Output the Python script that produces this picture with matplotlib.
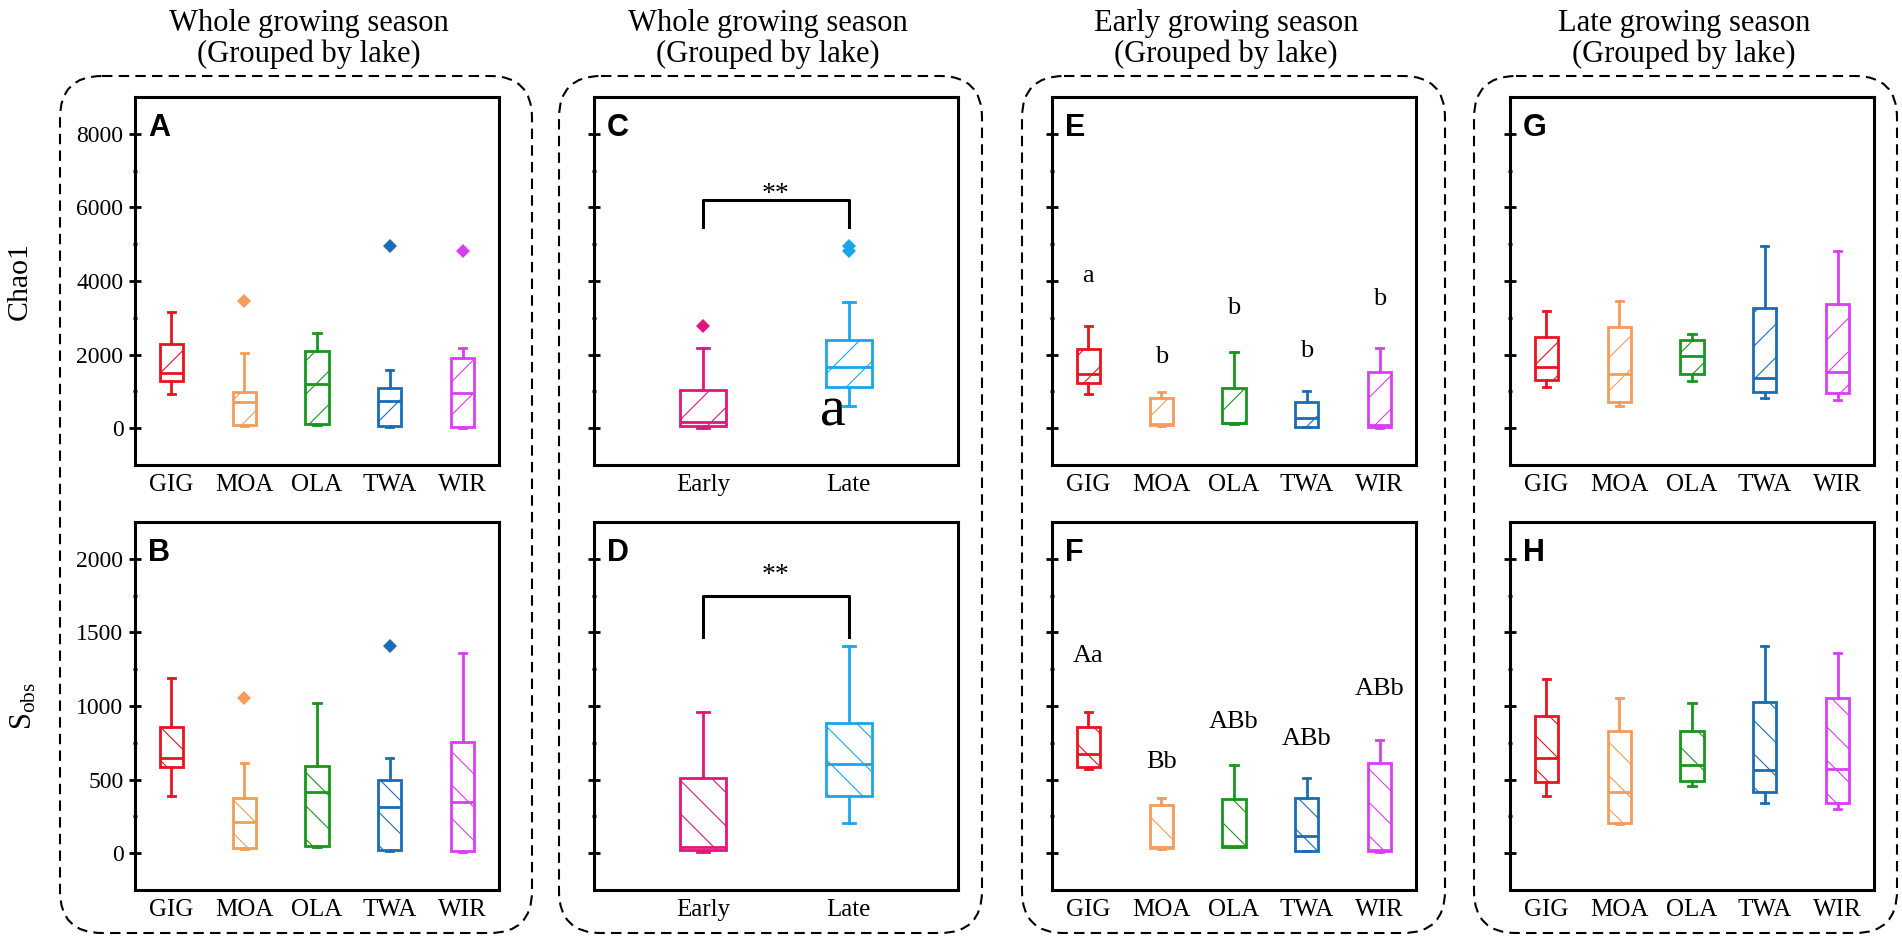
import matplotlib.pyplot as plt
from matplotlib.patches import FancyBboxPatch
from matplotlib.ticker import FixedLocator

plt.rcParams['font.family'] = ['Liberation Serif', 'DejaVu Serif']
plt.rcParams['mathtext.fontset'] = 'custom'
plt.rcParams['mathtext.rm'] = 'Liberation Serif'
plt.rcParams['mathtext.it'] = 'Liberation Serif:italic'
plt.rcParams['hatch.linewidth'] = 0.8

lakes = ['GIG', 'MOA', 'OLA', 'TWA', 'WIR']
seasons = ['Early', 'Late']
lake_colors = ['#e8141e', '#f59b5b', '#18961e', '#1b6db3', '#d93ef2']
season_colors = ['#e3157a', '#1ba6ec']

# box stats per group: [whisker low, Q1, median, Q3, whisker high]
chao1_lake = [[920, 1280, 1510, 2290, 3170],
              [50, 100, 720, 990, 2040],
              [100, 110, 1190, 2100, 2600],
              [30, 60, 740, 1100, 1580],
              [10, 40, 970, 1920, 2190]]
chao1_lake_out = [[], [3450], [], [4950], [4820]]

sobs_lake = [[388, 587, 644, 855, 1188],
             [30, 36, 209, 377, 614],
             [45, 48, 417, 594, 1023],
             [15, 20, 315, 497, 644],
             [10, 16, 345, 753, 1363]]
sobs_lake_out = [[], [1057], [], [1408], []]

chao1_season = [[10, 55, 170, 1040, 2190],
                [610, 1130, 1650, 2390, 3430]]
chao1_season_out = [[2770], [4950, 4820]]

sobs_season = [[5, 25, 43, 508, 961],
               [202, 390, 603, 882, 1410]]
sobs_season_out = [[], []]

chao1_early = [[920, 1220, 1467, 2150, 2770],
               [60, 80, 120, 810, 990],
               [120, 130, 150, 1100, 2080],
               [25, 35, 280, 720, 1020],
               [10, 20, 80, 1540, 2190]]
chao1_early_out = [[], [], [], [], []]

sobs_early = [[575, 587, 671, 855, 961],
              [30, 36, 40, 327, 372],
              [40, 43, 50, 367, 599],
              [12, 16, 118, 372, 508],
              [10, 14, 20, 614, 769]]
sobs_early_out = [[], [], [], [], []]

chao1_late = [[1130, 1310, 1660, 2480, 3180],
              [600, 720, 1460, 2740, 3450],
              [1280, 1480, 1950, 2390, 2570],
              [810, 980, 1360, 3260, 4950],
              [770, 950, 1540, 3370, 4820]]
chao1_late_out = [[], [], [], [], []]

sobs_late = [[388, 485, 644, 934, 1184],
             [198, 202, 417, 832, 1057],
             [456, 491, 599, 832, 1023],
             [342, 417, 565, 1029, 1410],
             [299, 342, 571, 1057, 1363]]
sobs_late_out = [[], [], [], [], []]

# significance brackets (leg bottom, bar) and letters
chao1_bracket = [5470, 6210]
sobs_bracket = [1472, 1748]
chao1_star_y = 6175
sobs_star_y = 1843
late_chao1_letter = 'a'
late_chao1_letter_pos = [1.89, 80]
early_chao1_letters = ['a', 'b', 'b', 'b', 'b']
early_chao1_letter_y = [3960, 1780, 3090, 1940, 3360]
early_sobs_letters = ['Aa', 'Bb', 'ABb', 'ABb', 'ABb']
early_sobs_letter_y = [1299, 578, 850, 735, 1075]

headers = [('Whole growing season', '(Grouped by lake)'),
           ('Whole growing season', '(Grouped by lake)'),
           ('Early growing season', '(Grouped by lake)'),
           ('Late growing season', '(Grouped by lake)')]

W, H = 1902, 942
fig = plt.figure(figsize=(W / 100, H / 100), dpi=100)

# dashed rounded frames drawn on a pixel-coordinate overlay
bg = fig.add_axes([0, 0, 1, 1], zorder=-1)
bg.set_xlim(0, W)
bg.set_ylim(H, 0)
bg.axis('off')
for x0, x1 in [(60, 532), (559, 982), (1022, 1445), (1474, 1897)]:
    bg.add_patch(FancyBboxPatch((x0, 76), x1 - x0, 857,
                                boxstyle='round,pad=0,rounding_size=42',
                                fill=False, ec='black', lw=1.5, ls=(0, (5, 3))))

lefts = [135, 594, 1052, 1510]
tops = [97, 522]
aw, ah = 364, 368


def draw_boxes(ax, rows, outliers, colors, hatch, width, capw):
    stats = [dict(whislo=r[0], q1=r[1], med=r[2], q3=r[3], whishi=r[4], fliers=o)
             for r, o in zip(rows, outliers)]
    art = ax.bxp(stats, positions=range(1, len(rows) + 1), widths=width,
                 capwidths=capw, patch_artist=True,
                 boxprops=dict(facecolor='white', linewidth=2),
                 whiskerprops=dict(linewidth=2), capprops=dict(linewidth=2),
                 medianprops=dict(linewidth=2),
                 flierprops=dict(marker='D', markersize=7, markeredgewidth=0))
    for i, c in enumerate(colors):
        art['boxes'][i].set_edgecolor(c)
        art['boxes'][i].set_hatch(hatch)
        for ln in art['whiskers'][2 * i:2 * i + 2] + art['caps'][2 * i:2 * i + 2]:
            ln.set_color(c)
        art['medians'][i].set_color(c)
        art['fliers'][i].set_markerfacecolor(c)


def style_axis(ax, chao, labels, show_y):
    if chao:
        ax.set_ylim(-1000, 9000)
        ax.set_yticks([0, 2000, 4000, 6000, 8000])
        ax.yaxis.set_minor_locator(FixedLocator([1000, 3000, 5000, 7000]))
    else:
        ax.set_ylim(-250, 2250)
        ax.set_yticks([0, 500, 1000, 1500, 2000])
        ax.yaxis.set_minor_locator(FixedLocator([250, 750, 1250, 1750]))
    n = len(labels)
    ax.set_xlim(0.5, n + 0.5) if n == 5 else ax.set_xlim(0.25, 2.75)
    ax.set_xticks(range(1, n + 1))
    ax.set_xticklabels(labels, fontsize=18)
    ax.tick_params(axis='x', length=0, pad=6.5)
    ax.tick_params(axis='y', which='major', direction='inout', length=8.6,
                   width=2, pad=4, labelsize=17, labelleft=show_y)
    ax.tick_params(axis='y', which='minor', direction='inout', length=3, width=2)
    for sp in ax.spines.values():
        sp.set_linewidth(2.2)


panels = [
    # col, row, rows, outliers, colors, labels, chao, letter
    (0, 0, chao1_lake, chao1_lake_out, lake_colors, lakes, True, 'A'),
    (0, 1, sobs_lake, sobs_lake_out, lake_colors, lakes, False, 'B'),
    (1, 0, chao1_season, chao1_season_out, season_colors, seasons, True, 'C'),
    (1, 1, sobs_season, sobs_season_out, season_colors, seasons, False, 'D'),
    (2, 0, chao1_early, chao1_early_out, lake_colors, lakes, True, 'E'),
    (2, 1, sobs_early, sobs_early_out, lake_colors, lakes, False, 'F'),
    (3, 0, chao1_late, chao1_late_out, lake_colors, lakes, True, 'G'),
    (3, 1, sobs_late, sobs_late_out, lake_colors, lakes, False, 'H'),
]

axes = {}
for col, row, rows, outs, cols, labels, chao, letter in panels:
    ax = fig.add_axes([lefts[col] / W, 1 - (tops[row] + ah) / H, aw / W, ah / H])
    axes[letter] = ax
    if len(labels) == 5:
        draw_boxes(ax, rows, outs, cols, '/' if chao else '\\', 0.32, 0.1)
    else:
        draw_boxes(ax, rows, outs, cols, '/' if chao else '\\', 0.32, 0.08)
    style_axis(ax, chao, labels, col == 0)
    ax.text(0.035, 0.893, letter, transform=ax.transAxes, fontsize=22,
            fontweight='bold', family='Liberation Sans', va='baseline')

# significance brackets
for key, (lo, hi), sy in [('C', chao1_bracket, chao1_star_y), ('D', sobs_bracket, sobs_star_y)]:
    axes[key].plot([1, 1, 2, 2], [lo, hi, hi, lo], color='black', lw=2.2)
    axes[key].text(1.5, sy, '**', ha='center', va='baseline', fontsize=20)

axes['C'].text(late_chao1_letter_pos[0], late_chao1_letter_pos[1], late_chao1_letter,
               ha='center', va='baseline', fontsize=42)

for i, (t, y) in enumerate(zip(early_chao1_letters, early_chao1_letter_y)):
    axes['E'].text(i + 1, y, t, ha='center', va='baseline', fontsize=19)
for i, (t, y) in enumerate(zip(early_sobs_letters, early_sobs_letter_y)):
    axes['F'].text(i + 1, y, t, ha='center', va='baseline', fontsize=19)

# column headers
for col, (l1, l2) in enumerate(headers):
    cx = (lefts[col] + aw / 2 - 8) / W
    fig.text(cx, 1 - 23 / H, l1, ha='center', va='center', fontsize=22)
    fig.text(cx, 1 - 54 / H, l2, ha='center', va='center', fontsize=22)

fig.text(20 / W, 1 - 281 / H, 'Chao1', rotation=90, ha='center', va='center', fontsize=21.5)
fig.text(24 / W, 1 - 706 / H, r'$\mathrm{S}_{\mathrm{obs}}$', rotation=90,
         ha='center', va='center', fontsize=22)

fig.savefig('out.png', dpi=100)
